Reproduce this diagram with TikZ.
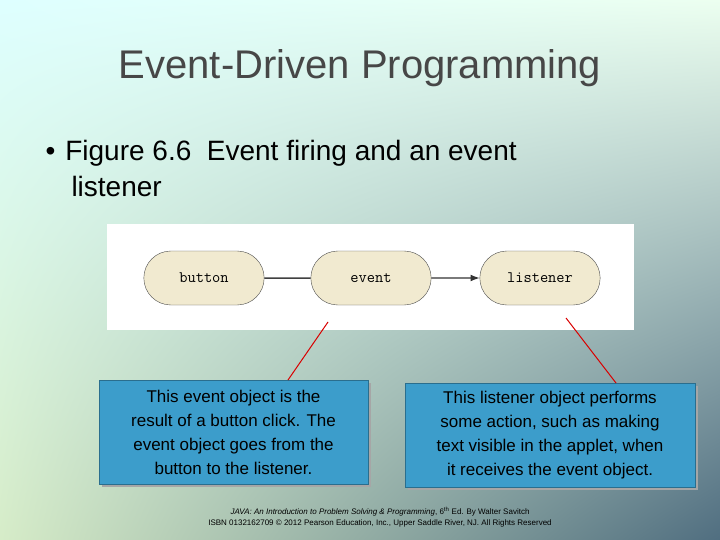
\documentclass[tikz,border=0pt]{standalone}
\usepackage{fontspec}
\setmainfont{Liberation Sans}
\usetikzlibrary{shapes.misc,arrows.meta,shadings}
\definecolor{pill}{HTML}{F1EAD0}
\definecolor{boxblue}{HTML}{3C9DCB}
\definecolor{bgul}{RGB}{222,255,255}
\definecolor{bgur}{RGB}{236,255,240}
\definecolor{bgll}{RGB}{214,236,200}
\definecolor{bglr}{RGB}{80,110,128}
\begin{document}
\begin{tikzpicture}[x=1pt,y=-1pt,
 pillnode/.style={rounded rectangle,draw=black!70,fill=pill,minimum width=127pt,minimum height=54pt,font=\ttfamily\fontsize{16}{18}\selectfont},
 note/.style={draw=boxblue!70!black,fill=boxblue,align=center,font=\fontsize{17}{24}\selectfont,inner sep=2pt},
 redline/.style={draw=red!85!black,line width=1pt}]
\useasboundingbox (0,0) rectangle (720,540);
\shade[upper left=bgul,upper right=bgur,lower left=bgll,lower right=bglr] (0,0) rectangle (720,540);
\node[font=\fontsize{40}{44}\selectfont,text=black!72] (title) at (360,68) {Event-Driven Programming};
\node[anchor=west,font=\fontsize{28}{36}\selectfont,align=left] (bul) at (42,168) {•\hspace{10pt}Figure 6.6\ \ Event firing and an event\\\hspace{26pt}listener};
\node[fill=white,minimum width=527pt,minimum height=106pt,inner sep=0pt] (fig) at (370.5,277) {};
\node[pillnode] (button) at (204,278) {button};
\node[pillnode] (event) at (371,278) {event};
\node[pillnode] (listener) at (540,278) {listener};
\draw[line width=1.5pt,black!75] (button) -- (event);
\draw[line width=1.2pt,black!80,-{Latex[length=9pt]}] (event) -- (listener);
\fill[black!35] (102,383) rectangle (371,487);
\node[note,minimum width=269pt,minimum height=104pt] (n1) at (233.5,432) {This event object is the\\result of a button click. The\\event object goes from the\\button to the listener.};
\fill[black!35] (408,386) rectangle (698,490);
\node[note,minimum width=290pt,minimum height=104pt] (n2) at (550,435) {This listener object performs\\some action, such as making\\text visible in the applet, when\\it receives the event object.};
\coordinate (a1) at (328,322);
\coordinate (a2) at (566,318);
\draw[redline] (288,380) -- (a1);
\draw[redline] (616,383) -- (a2);
\node[font=\fontsize{8}{11}\selectfont,align=center] (foot) at (380,517) {\textit{JAVA: An Introduction to Problem Solving \& Programming}, 6\textsuperscript{th} Ed. By Walter Savitch\\ISBN 0132162709 © 2012 Pearson Education, Inc., Upper Saddle River, NJ. All Rights Reserved};
\end{tikzpicture}
\end{document}
